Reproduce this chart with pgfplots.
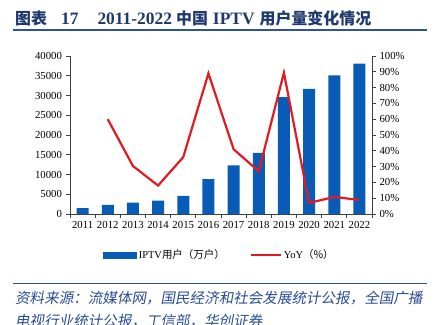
\documentclass[border=0pt]{standalone}
\usepackage{pgfplots}
\pgfplotsset{compat=1.18}
\usepackage{fontspec}
\setmainfont{Liberation Serif}
\newfontfamily\cjk{Noto Sans CJK SC}
\newfontfamily\cjkit[FakeSlant=0.18]{Noto Sans CJK SC}
\definecolor{barblue}{RGB}{8,92,182}
\definecolor{linered}{RGB}{228,26,34}
\definecolor{titleblue}{RGB}{31,56,110}
\definecolor{srcblue}{RGB}{40,75,150}
\definecolor{rule}{RGB}{45,85,150}
\begin{document}
\begin{tikzpicture}[x=1bp,y=1bp]
\useasboundingbox (0,0) rectangle (436,324);
% title
\node[anchor=west,inner sep=0pt,text=titleblue,font=\fontsize{17.5}{19}\selectfont\bfseries] at (15,305.5)
  {{\fontsize{16}{18}\selectfont\cjk\bfseries 图表}\hspace{14bp}17\hspace{19bp}2011-2022\hspace{4bp}{\fontsize{16}{18}\selectfont\cjk\bfseries 中国}\hspace{5bp}IPTV\hspace{5bp}{\fontsize{16}{18}\selectfont\cjk\bfseries 用户量变化情况}};
\draw[rule,line width=1.6bp] (13,293.8) -- (427,293.8);
% source
\draw[rule,line width=1.6bp] (13,40.7) -- (427,40.7);
\node[anchor=west,inner sep=0pt,text=srcblue,font=\fontsize{14.6}{21.5}\selectfont\cjkit] at (15,26)
  {资料来源：流媒体网，国民经济和社会发展统计公报，全国广播};
\node[anchor=west,inner sep=0pt,text=srcblue,font=\fontsize{14.6}{21.5}\selectfont\cjkit] at (15,3)
  {电视行业统计公报，工信部，华创证券};
\begin{axis}[
  at={(70bp,110bp)}, anchor=south west,
  scale only axis, width=302bp, height=158bp,
  xmin=-0.5, xmax=11.5, ymin=0, ymax=40000,
  axis x line*=bottom, axis y line*=left,
  axis line style={black!75, line width=0.8bp},
  tick style={black!75, line width=0.8bp},
  tick align=outside,
  xtick={0,...,11},
  xticklabels={2011,2012,2013,2014,2015,2016,2017,2018,2019,2020,2021,2022},
  major x tick style={draw=none},
  minor xtick={-0.5,0.5,...,11.5},
  minor tick length=4bp,
  major tick length=4bp,
  ytick={0,5000,...,40000},
  scaled y ticks=false,
  /pgf/number format/1000 sep={},
  /pgf/number format/fixed,
  /pgf/number format/assume math mode=true,
  ticklabel style={font=\fontsize{10.8}{12}\selectfont},
  yticklabel style={xshift=-0.5bp},
  legend style={at={(0.495,-0.26)}, anchor=center, draw=none, legend columns=2,
    font=\fontsize{10.5}{12}\selectfont,
    /tikz/every even column/.append style={column sep=23bp}},
  legend image code/.code={},
]
\addlegendimage{legend image code/.code={\fill[barblue] (0bp,-3.3bp) rectangle (33bp,3.3bp);}}
\addlegendentry{IPTV{\cjk 用户（万户）}}
\addlegendimage{legend image code/.code={\draw[linered,line width=2bp] (0bp,0bp) -- (30bp,0bp);}}
\addlegendentry{YoY{\cjk（\%）}}
\addplot[ybar, bar width=12bp, bar shift=0pt, fill=barblue, draw=none, forget plot]
  coordinates {(0,1500) (1,2300) (2,2900) (3,3400) (4,4600) (5,8800) (6,12300) (7,15500) (8,29600) (9,31700) (10,35100) (11,38100)};
\end{axis}
\begin{axis}[
  at={(70bp,110bp)}, anchor=south west,
  scale only axis, width=302bp, height=158bp,
  xmin=-0.5, xmax=11.5, ymin=0, ymax=100,
  axis x line=none, axis y line*=right,
  axis line style={black!75, line width=0.8bp},
  tick style={black!75, line width=0.8bp},
  tick align=outside, major tick length=4bp,
  ytick={0,10,...,100},
  yticklabel={\pgfmathprintnumber{\tick}\%},
  /pgf/number format/assume math mode=true,
  ticklabel style={font=\fontsize{10.8}{12}\selectfont},
]
\addplot[linered, line width=2.2bp, mark=none]
  coordinates {(1,60) (2,30.4) (3,18) (4,36) (5,89) (6,41) (7,27) (8,89.4) (9,7) (10,10.8) (11,8.9)};
\end{axis}
\end{tikzpicture}
\end{document}
